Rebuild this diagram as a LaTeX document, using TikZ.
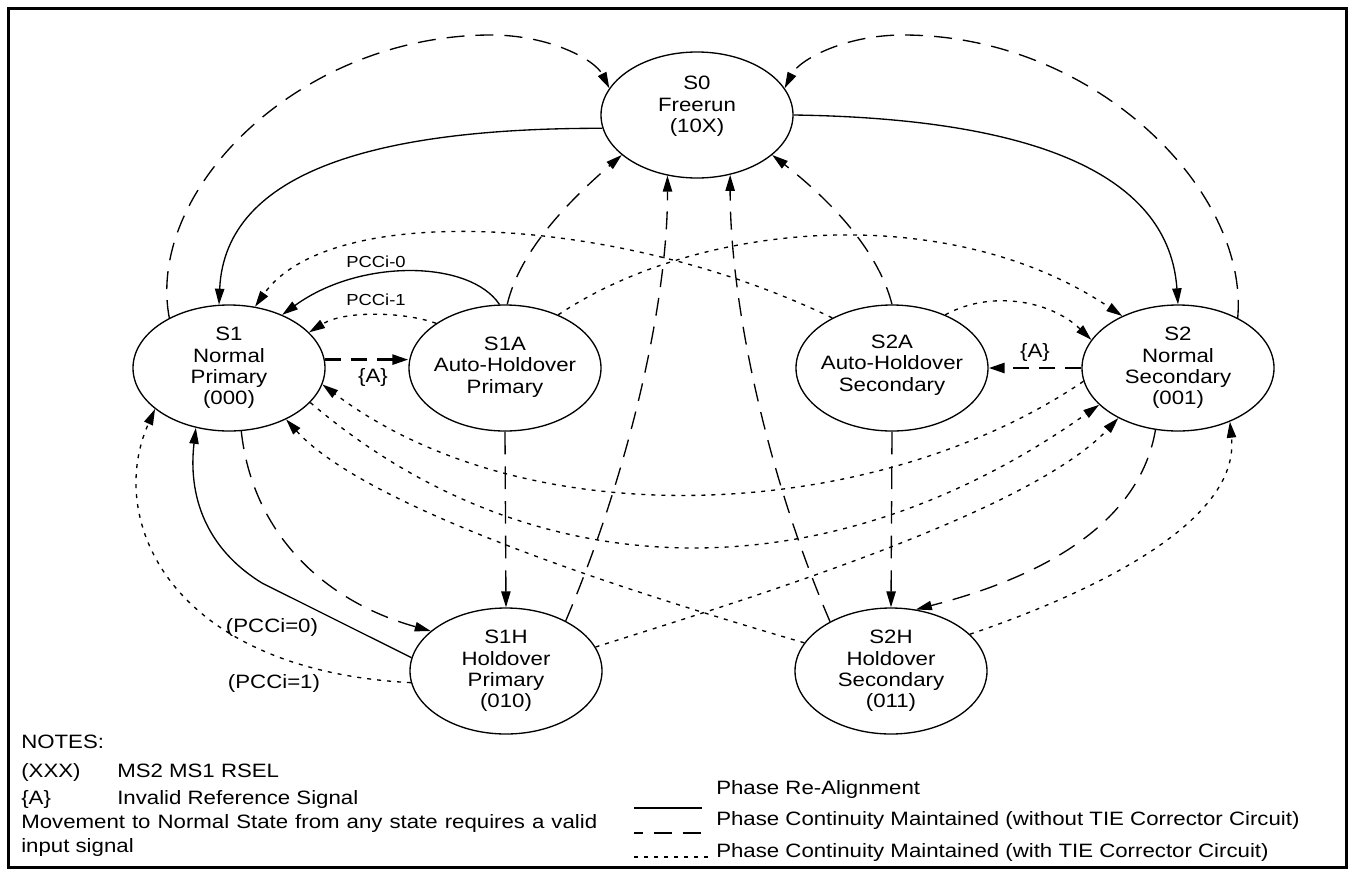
\documentclass[tikz,border=0pt]{standalone}
\usepackage{fontspec}
\setmainfont{Liberation Sans}[FakeStretch=1.15]
\usetikzlibrary{shapes.geometric,arrows.meta}
\begin{document}
\begin{tikzpicture}[x=0.75pt,y=-0.75pt,
  st/.style={draw,ellipse,line width=1pt,minimum width=144pt,minimum height=94.5pt,inner sep=0pt},
  txt/.style={align=center,font=\fontsize{14.5}{16.1}\selectfont,inner sep=0pt},
  lbl/.style={font=\fontsize{14.5}{16.1}\selectfont,inner sep=0pt},
  small/.style={font=\fontsize{12}{14}\selectfont,inner sep=0pt},
  leg/.style={font=\fontsize{14.5}{16.1}\selectfont,inner sep=0pt},
  con/.style={line width=1pt,-{Triangle[length=12pt,width=7pt]}},
  solidc/.style={con},
  dashc/.style={con,dash pattern=on 13.5pt off 8.25pt},
  vdashc/.style={con,dash pattern=on 17pt off 9pt},
  dotc/.style={con,dash pattern=on 3pt off 4.5pt},
  thickdash/.style={line width=2pt,dash pattern=on 12pt off 7.5pt,-{Triangle[length=12pt,width=7.5pt]}},
]
\useasboundingbox (0,0) rectangle (1353,875);
\draw[line width=2.25pt] (8,8) rectangle (1346,867);

% states
\node[st] (S0) at (697,115) {};
\node[txt] (S0t) at (S0.center) {S0\\Freerun\\(10X)\\\mbox{}};
\node[st] (S1) at (229,368) {};
\node[txt] (S1t) at (S1.center) {S1\\Normal\\Primary\\(000)};
\node[st] (S1A) at (505,368) {};
\node[txt] (S1At) at (505,367) {S1A\\Auto-Holdover\\Primary};
\node[st] (S2A) at (892,368) {};
\node[txt] (S2At) at (892,365) {S2A\\Auto-Holdover\\Secondary};
\node[st] (S2) at (1178,368) {};
\node[txt] (S2t) at (S2.center) {S2\\Normal\\Secondary\\(001)};
\node[st] (S1H) at (506,671) {};
\node[txt] (S1Ht) at (S1H.center) {S1H\\Holdover\\Primary\\(010)};
\node[st] (S2H) at (891,671) {};
\node[txt] (S2Ht) at (S2H.center) {S2H\\Holdover\\Secondary\\(011)};

% solid: phase re-alignment
\draw[solidc] (S0.188) .. controls (380,128) and (225,170) .. (S1.99);
\draw[solidc] (S0.0) .. controls (1000,118) and (1168,160) .. (S2.90);
\draw[solidc] (S1A.95) .. controls (470,260) and (360,258) .. (S1.45);
\draw[solidc] (S1H.172) -- (262,583) .. controls (205,548) and (188,495) .. (S1.241);

% dashed: without TIE corrector
\draw[dashc] (S1.140) .. controls (145,190) and (300,35) .. (491,35) .. controls (550,35) and (595,60) .. (S0.163);
\draw[dashc] (S2.40) .. controls (1249,190) and (1094,35) .. (903,35) .. controls (844,35) and (799,60) .. (S0.17);
\draw[dashc] (S1A.88) .. controls (520,250) and (570,200) .. (S0.208);
\draw[dashc] (S2A.90) .. controls (878,250) and (830,200) .. (S0.332);
\draw[dashc] (S1H.40) .. controls (630,470) and (668,300) .. (S0.244);
\draw[dashc] (S2H.141) .. controls (765,470) and (730,300) .. (S0.299);
\draw[dashc] (S1.281) .. controls (252,530) and (320,600) .. (S1H.152);
\draw[dashc] (S2.250) .. controls (1140,520) and (1050,575) .. (S2H.68);
\draw[vdashc] (S1A.south) -- (S1H.north);
\draw[vdashc] (S2A.south) -- (S2H.north);
\draw[thickdash] (S1.5) -- (S1.5 -| S1A.west);
\draw[thickdash] (S2.180) -- (S2.180 -| S2A.east);

% dotted: with TIE corrector
\draw[dotc] (S1A.147) .. controls (405,312) and (345,310) .. (S1.24);
\draw[dotc] (S2A.140) .. controls (620,215) and (330,200) .. (S1.67);
\draw[dotc] (S1A.45) .. controls (700,220) and (950,200) .. (S2.137);
\draw[dotc] (S2A.45) .. controls (990,290) and (1050,300) .. (S2.162);
\draw[dotc] (S2.188) .. controls (876,522) and (529,540) .. (S1.350);
\draw[dotc] (S1.337) .. controls (532,592) and (828,597) .. (S2.205);
\draw[dotc] (S2H.162) .. controls (640,595) and (368,510) .. (S1.318);
\draw[dotc] (S1H.15) .. controls (754,597) and (1030,512) .. (S2.220);
\draw[dotc] (S1H.187) .. controls (170,670) and (105,520) .. (S1.209);
\draw[dotc] (S2H.25) .. controls (1100,590) and (1240,520) .. (S2.314);

% labels
\node[lbl] (A1) at (373,377) {\{A\}};
\node[lbl] (A2) at (1035,352) {\{A\}};
\node[small] (P0) at (376,262) {PCCi-0};
\node[small] (P1) at (376,300) {PCCi-1};
\node[lbl] (Q0) at (272,627) {(PCCi=0)};
\node[lbl] (Q1) at (274,683) {(PCCi=1)};

% notes
\node[lbl,anchor=base west] (N0) at (21,748.5) {NOTES:};
\node[lbl,anchor=base west] (N1) at (21,777) {(XXX)};
\node[lbl,anchor=base west] (N1b) at (117,777) {MS2 MS1 RSEL};
\node[lbl,anchor=base west] (N2) at (21,804.5) {\{A\}};
\node[lbl,anchor=base west] (N2b) at (117,804.5) {Invalid Reference Signal};
\node[lbl,anchor=base west] (N3) at (21,828.5) {\makebox[432pt][s]{Movement to Normal State from any state requires a valid}};
\node[lbl,anchor=base west] (N4) at (21,852.5) {input signal};

% legend
\node[leg,anchor=base west] (L0) at (716,794) {Phase Re-Alignment};
\node[leg,anchor=base west] (L1) at (716,825) {Phase Continuity Maintained (without TIE Corrector Circuit)};
\node[leg,anchor=base west] (L2) at (716,857) {Phase Continuity Maintained (with TIE Corrector Circuit)};
\coordinate (la1) at (634,808); \coordinate (la2) at (702,808);
\coordinate (lb1) at (634,833); \coordinate (lb2) at (709,833);
\coordinate (lc1) at (634,857); \coordinate (lc2) at (713,857);
\draw[line width=1pt] (la1) -- (la2);
\draw[line width=1pt,dash pattern=on 13.5pt off 8.25pt,dash phase=7pt] (lb1) -- (lb2);
\draw[line width=1pt,dash pattern=on 3pt off 4.5pt] (lc1) -- (lc2);
\end{tikzpicture}
\end{document}
